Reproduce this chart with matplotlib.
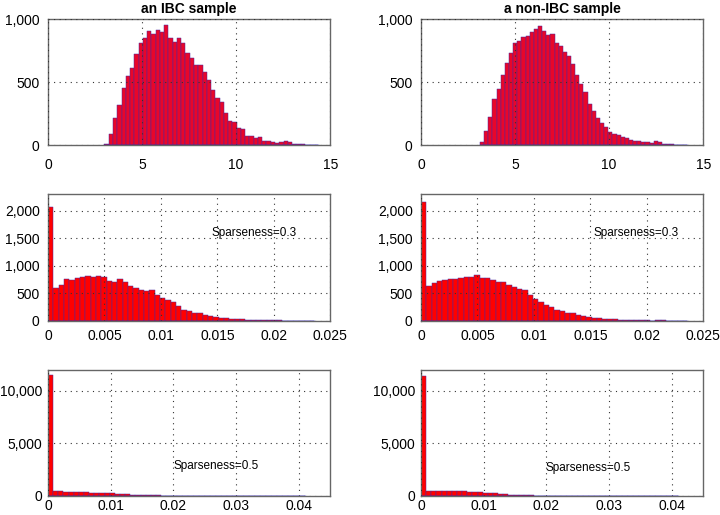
import numpy as np
import matplotlib
matplotlib.use("Agg")
import matplotlib.pyplot as plt
from matplotlib.ticker import FuncFormatter

plt.rcParams['font.family'] = ['Liberation Sans', 'DejaVu Sans']

# histogram counts (50 bins each)
ibc_raw = [5, 85, 214, 320, 452, 545, 611, 720, 807, 847, 905, 878, 915, 894, 955,
           852, 815, 847, 810, 728, 688, 632, 632, 579, 513, 439, 376, 339, 254, 190,
           180, 138, 124, 74, 69, 53, 63, 29, 32, 24, 19, 26, 32, 21, 10, 8, 5, 4, 2, 1]
non_raw = [21, 108, 220, 362, 444, 553, 648, 728, 810, 825, 857, 868, 894, 918, 942,
           905, 870, 881, 807, 788, 741, 706, 640, 558, 487, 423, 323, 272, 212, 175,
           146, 103, 90, 79, 63, 53, 42, 34, 34, 24, 24, 13, 32, 24, 10, 8, 5, 3, 2, 1]
ibc_s03 = [2059, 604, 658, 761, 743, 773, 797, 815, 791, 815, 791, 731, 713, 755, 700,
           640, 598, 568, 543, 562, 465, 411, 380, 338, 278, 199, 181, 151, 151, 109,
           91, 72, 60, 48, 42, 36, 30, 24, 18, 18, 14, 12, 10, 12, 8, 6, 5, 4, 2, 1]
non_s03 = [2162, 634, 682, 725, 749, 761, 755, 773, 803, 803, 833, 785, 785, 743, 707,
           707, 652, 622, 574, 562, 477, 399, 344, 290, 248, 199, 175, 139, 139, 103,
           91, 72, 60, 54, 42, 36, 30, 24, 18, 18, 14, 12, 10, 8, 20, 12, 6, 4, 2, 1]
ibc_s05 = [11540, 450, 430, 410, 400, 390, 370, 350, 330, 310, 290, 270, 250, 220, 190,
           160, 135, 110, 90, 75, 60, 48, 38, 30, 24, 19, 15, 12, 10, 8,
           6, 5, 4, 3, 3, 2, 2, 1, 1, 1, 1, 0, 0, 1, 0, 0, 0, 0, 0, 1]
non_s05 = [11385, 520, 500, 520, 480, 470, 460, 450, 430, 390, 370, 340, 310, 280, 240,
           200, 170, 140, 110, 90, 70, 55, 45, 35, 28, 22, 17, 13, 10, 8,
           6, 5, 4, 3, 3, 2, 2, 1, 1, 1, 1, 0, 0, 1, 0, 0, 0, 0, 0, 1]

# data range covered by the bins
ibc_range = (3.0, 14.33)
non_range = (3.14, 14.13)
s03_range = (0.0, 0.0236)
s05_range = (0.0, 0.041)

titles = ['an IBC sample', 'a non-IBC sample']
xticks = [[0, 5, 10, 15], [0, 0.005, 0.01, 0.015, 0.02, 0.025], [0, 0.01, 0.02, 0.03, 0.04]]
xlims = [(0, 15), (0, 0.025), (0, 0.045)]
ylims = [(0, 1000), (0, 2300), (0, 12000)]
yticks = [[0, 500, 1000], [0, 500, 1000, 1500, 2000], [0, 5000, 10000]]
notes = [None, 'Sparseness=0.3', 'Sparseness=0.5']
note_pos = [[None, None], [(0.01444, 1600), (0.01527, 1600)], [(0.0200, 2850), (0.0199, 2630)]]

panels = [[(ibc_raw, ibc_range), (non_raw, non_range)],
          [(ibc_s03, s03_range), (non_s03, s03_range)],
          [(ibc_s05, s05_range), (non_s05, s05_range)]]

fig = plt.figure(figsize=(7.2, 5.15), dpi=100)
lefts = [0.0667, 0.5847]
bottoms = [0.7184, 0.3767, 0.0369]
heights = [0.2447, 0.2466, 0.2447]
face = ['#e8062a', '#ff0000', '#ff0000']
xpad = [9, 6, 2]
ypad = [6, 6, 4]

for r in range(3):
    for c in range(2):
        ax = fig.add_axes([lefts[c], bottoms[r], 0.392, heights[r]])
        counts, (lo, hi) = panels[r][c]
        edges = np.linspace(lo, hi, len(counts) + 1)
        ax.hist(edges[:-1], bins=edges, weights=counts, color=face[r],
                edgecolor='#4a2aa0', linewidth=0.35)
        # thin blue baseline under the bins, as in the original
        ax.plot([lo, hi], [0, 0], color='#2020d0', linewidth=1.0, zorder=3)
        ax.set_xlim(*xlims[r])
        ax.set_ylim(*ylims[r])
        ax.set_xticks(xticks[r])
        ax.set_yticks(yticks[r])
        ax.xaxis.set_major_formatter(FuncFormatter(lambda v, p: '%g' % v))
        ax.yaxis.set_major_formatter(FuncFormatter(lambda v, p: '{:,.0f}'.format(v)))
        ax.grid(True, linestyle=(0, (1, 4)), color='#333333', linewidth=0.8)
        ax.set_axisbelow(False)
        ax.tick_params(length=0, labelsize=10)
        ax.tick_params(axis='x', pad=xpad[r])
        ax.tick_params(axis='y', pad=ypad[r])
        for s in ax.spines.values():
            s.set_color('#666666')
            s.set_linewidth(1.0)
        if r == 0:
            ax.set_title(titles[c], fontsize=10, fontweight='bold', pad=4)
        if notes[r]:
            x, y = note_pos[r][c]
            ax.text(x, y, notes[r], fontsize=8.5, va='center', ha='left')

fig.savefig('out.png', dpi=100)
